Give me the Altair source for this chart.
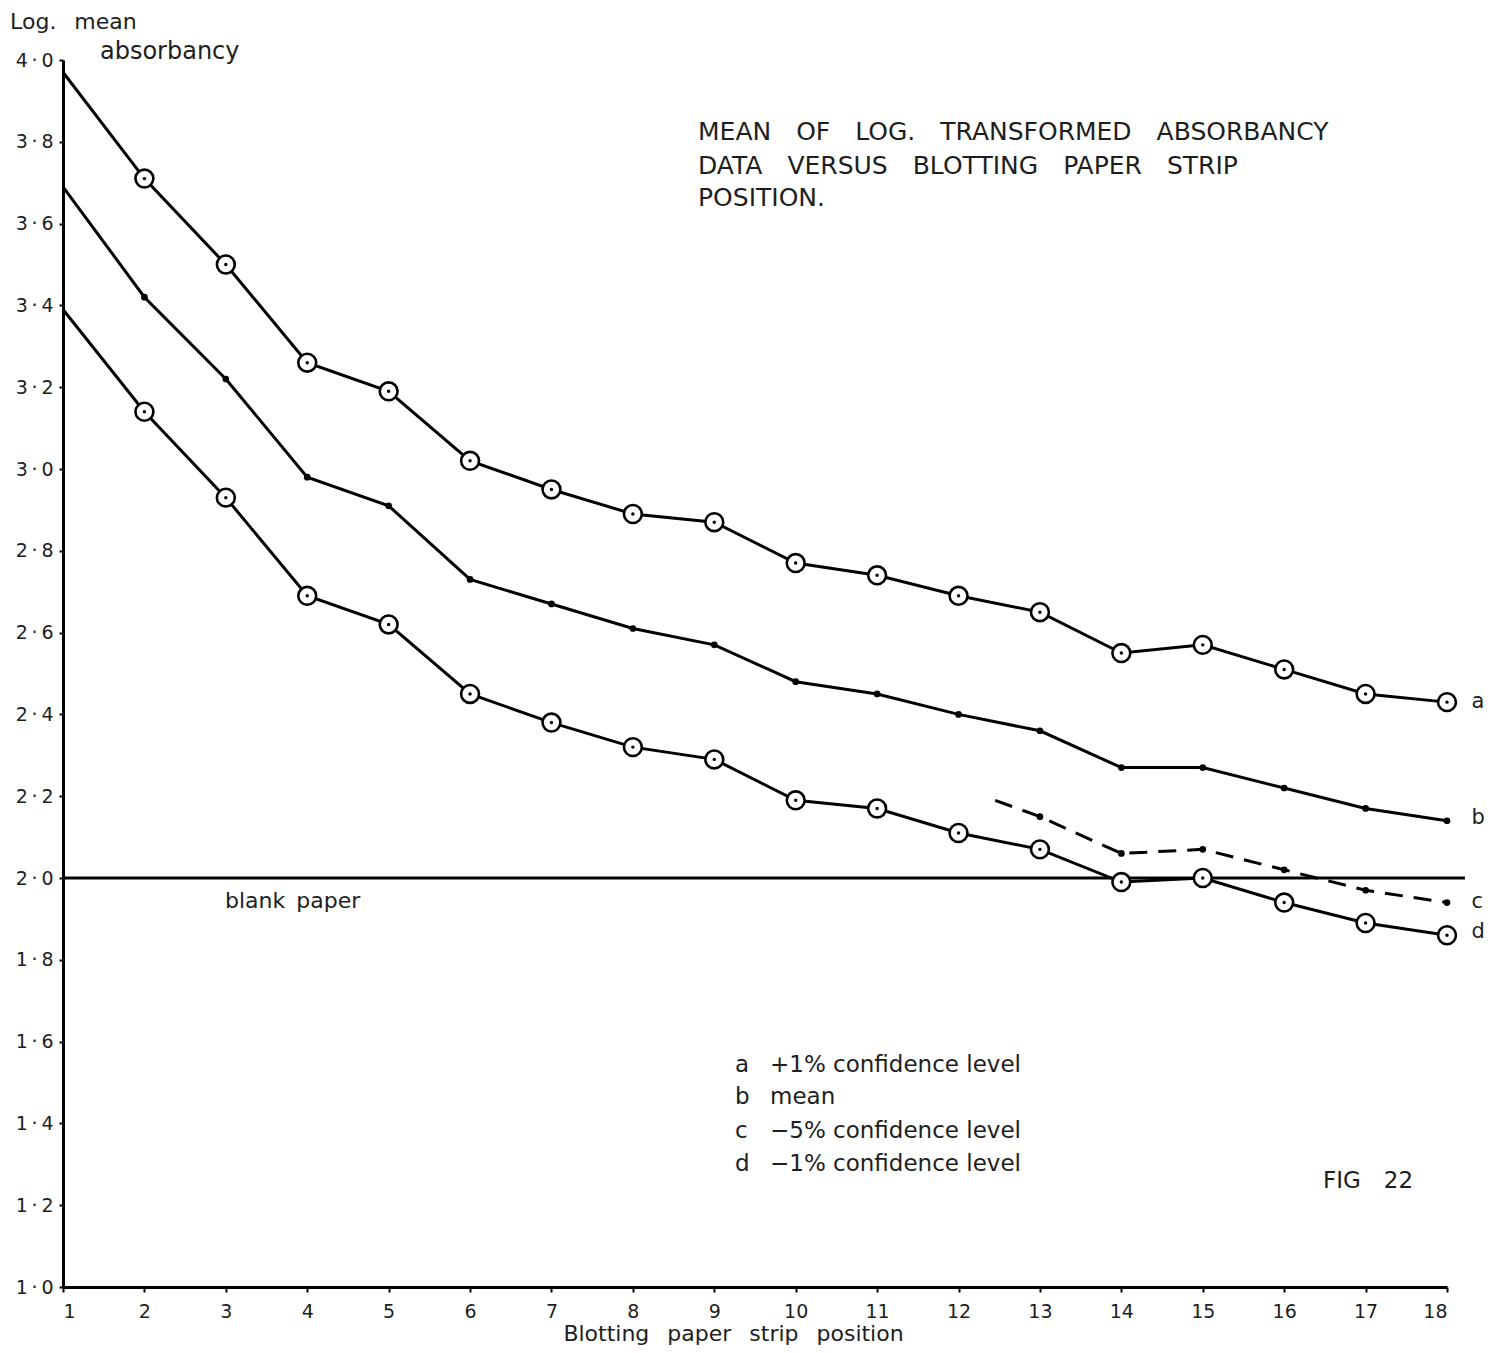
import altair as alt
import pandas as pd

# ---- data ----
positions = list(range(1, 19))
series_a = [3.97, 3.71, 3.50, 3.26, 3.19, 3.02, 2.95, 2.89, 2.87, 2.77, 2.74, 2.69, 2.65, 2.55, 2.57, 2.51, 2.45, 2.43]
series_b = [3.69, 3.42, 3.22, 2.98, 2.91, 2.73, 2.67, 2.61, 2.57, 2.48, 2.45, 2.40, 2.36, 2.27, 2.27, 2.22, 2.17, 2.14]
series_c_x = [12.45, 13, 14, 15, 16, 17, 18]
series_c = [2.19, 2.15, 2.06, 2.07, 2.02, 1.97, 1.94]
series_d = [3.39, 3.14, 2.93, 2.69, 2.62, 2.45, 2.38, 2.32, 2.29, 2.19, 2.17, 2.11, 2.07, 1.99, 2.00, 1.94, 1.89, 1.86]
blank_paper = 2.0
blank_x = [1, 18.22]

SP = "\u2003"  # wide word gap (the original is typed with generous spacing)
EN = "\u2002"
legend_keys = ["a", "b", "c", "d"]
legend_texts = ["+1% confidence level", "mean", "\u22125% confidence level", "\u22121% confidence level"]
title_lines = ["MEAN" + SP + "OF" + SP + "LOG." + SP + "TRANSFORMED" + SP + "ABSORBANCY",
               "DATA" + SP + "VERSUS" + SP + "BLOTTING" + SP + "PAPER" + SP + "STRIP",
               "POSITION."]

FONT = "DejaVu Sans"
INK = "#1e1e1e"

rows = []
for s, vals in (("a", series_a), ("b", series_b), ("d", series_d)):
    for x, y in zip(positions, vals):
        rows.append({"series": s, "x": x, "y": y})
df_main = pd.DataFrame(rows)
df_c = pd.DataFrame({"series": "c", "x": series_c_x, "y": series_c})

x_scale = alt.Scale(domain=[1, 18], nice=False, zero=False)
y_scale = alt.Scale(domain=[1, 4], nice=False, zero=False)

X = alt.X("x:Q", scale=x_scale,
          axis=alt.Axis(values=positions, format="d",
                        title="Blotting" + EN + " paper" + EN + " strip" + EN + " position",
                        grid=False, domainColor="black", domainWidth=3, tickColor="black",
                        tickWidth=2, tickSize=5, labelFont=FONT, labelFontSize=19,
                        labelColor=INK, labelPadding=10, titleFont=FONT, titleFontSize=22,
                        titleFontWeight="normal", titleColor=INK, titlePadding=2,
                        titleX=670, titleAnchor="middle"))
Y = alt.Y("y:Q", scale=y_scale,
          axis=alt.Axis(values=[1.0, 1.2, 1.4, 1.6, 1.8, 2.0, 2.2, 2.4, 2.6, 2.8, 3.0, 3.2, 3.4, 3.6, 3.8, 4.0],
                        labelExpr="replace(format(datum.value, '.1f'), '.', '\u2009\u00b7\u2009')",
                        title=None, grid=False, domainColor="black", domainWidth=3,
                        tickColor="black", tickWidth=2, tickSize=4, labelFont=FONT,
                        labelFontSize=19, labelColor=INK, labelPadding=6))

lines = alt.Chart(df_main).mark_line(color="black", strokeWidth=3).encode(x=X, y=Y, detail="series:N")
circles = alt.Chart(df_main).transform_filter(
    "(datum.series == 'a' || datum.series == 'd') && datum.x >= 2"
).mark_point(shape="circle", filled=False, fill="white", fillOpacity=1,
             color="black", strokeWidth=2.6, size=320, opacity=1).encode(x=X, y=Y)
centers = alt.Chart(df_main).transform_filter(
    "(datum.series == 'a' || datum.series == 'd') && datum.x >= 2"
).mark_circle(color="black", size=12, opacity=1).encode(x=X, y=Y)
dots_b = alt.Chart(df_main).transform_filter(
    "datum.series == 'b' && datum.x >= 2"
).mark_circle(color="black", size=45, opacity=1).encode(x=X, y=Y)

line_c = alt.Chart(df_c).mark_line(color="black", strokeWidth=3, strokeDash=[18, 11]).encode(x=X, y=Y)
dots_c = alt.Chart(df_c).transform_filter("datum.x >= 13").mark_circle(
    color="black", size=45, opacity=1).encode(x=X, y=Y)

df_blank = pd.DataFrame({"x": [blank_x[0]], "x2": [blank_x[1]], "y": [blank_paper]})
blank = alt.Chart(df_blank).mark_rule(color="black", strokeWidth=3).encode(
    x=alt.X("x:Q", scale=x_scale), x2="x2:Q", y=alt.Y("y:Q", scale=y_scale))

# ---- annotations (data coordinates) ----
ann = pd.DataFrame([
    {"t": "Log." + EN + " mean", "x": 0.35, "y": 4.093, "s": 22},
    {"t": "absorbancy", "x": 1.454, "y": 4.020, "s": 24},
    {"t": "blank" + EN + "paper", "x": 2.99, "y": 1.944, "s": 22},
    {"t": "FIG" + SP + "22", "x": 16.477, "y": 1.259, "s": 23},
] + [
    {"t": k, "x": 18.30, "y": v, "s": 21}
    for k, v in zip(legend_keys, [2.43, 2.147, 1.941, 1.868])
] + [
    {"t": k, "x": 9.254, "y": v, "s": 23}
    for k, v in zip(legend_keys, [1.543, 1.465, 1.381, 1.301])
] + [
    {"t": t, "x": 9.684, "y": v, "s": 23}
    for t, v in zip(legend_texts, [1.543, 1.465, 1.381, 1.301])
] + [
    {"t": t, "x": 8.80, "y": v, "s": 25}
    for t, v in zip(title_lines, [3.824, 3.741, 3.663])
])

texts = alt.Chart(ann).mark_text(align="left", baseline="middle", font=FONT, color=INK).encode(
    x=alt.X("x:Q", scale=x_scale), y=alt.Y("y:Q", scale=y_scale), text="t:N",
    size=alt.Size("s:Q", scale=None, legend=None))

chart = alt.layer(blank, lines, line_c, dots_b, dots_c, circles, centers, texts).properties(
    width=1384, height=1227,
    autosize=alt.AutoSizeParams(type="none"),
    padding={"left": 55, "top": 52, "right": 39, "bottom": 60},
    background="white",
).configure_view(stroke=None)

chart.save("out.html", embed_options={"renderer": "svg", "actions": False})
